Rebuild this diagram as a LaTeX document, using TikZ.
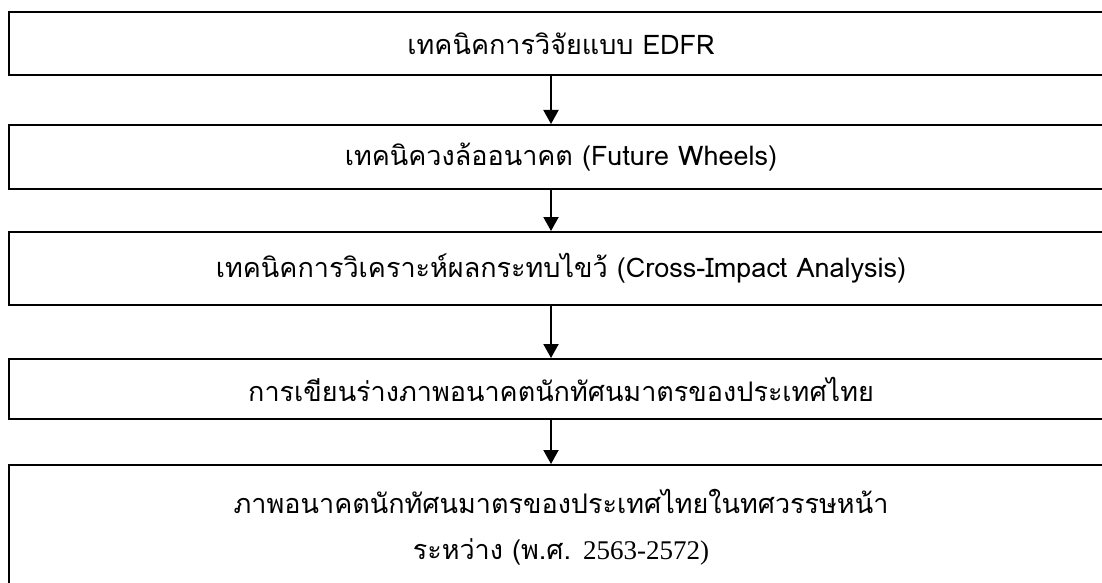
\documentclass[tikz,border=0pt]{standalone}
\usepackage{fontspec}
\newfontfamily\thaifont[Script=Thai]{Loma}
\newfontfamily\numfont{Liberation Serif}
\usetikzlibrary{arrows.meta}
\begin{document}
\begin{tikzpicture}[x=1pt,y=-1pt,
  box/.style={draw=black, line width=2pt, rectangle, minimum width=1105pt,
    inner sep=0pt, font=\thaifont\fontsize{27}{46}\selectfont, align=center},
  arr/.style={line width=2pt, -{Triangle[width=15pt,length=14pt]}}]
\useasboundingbox (0,0) rectangle (1102,583);
\clip (0,0) rectangle (1102,583);
\node[box, minimum height=62.5pt] (b1) at (561,43.75) {เทคนิคการวิจัยแบบ EDFR};
\node[box, minimum height=64pt] (b2) at (561,157) {เทคนิควงล้ออนาคต (Future Wheels)};
\node[box, minimum height=73pt] (b3) at (561,268.5) {เทคนิคการวิเคราะห์ผลกระทบไขว้ (Cross-Impact Analysis)};
\node[box, minimum height=60pt] (b4) at (561,389) {การเขียนร่างภาพอนาคตนักทัศนมาตรของประเทศไทย};
\node[box, minimum height=124pt] (b5) at (561,527) {ภาพอนาคตนักทัศนมาตรของประเทศไทยในทศวรรษหน้า\\ระหว่าง (พ.ศ. {\numfont 2563-2572)}};
\coordinate (ax) at (551,0);
\draw[arr] (b1.south -| ax) -- (b2.north -| ax);
\draw[arr] (b2.south -| ax) -- (b3.north -| ax);
\draw[arr] (b3.south -| ax) -- (b4.north -| ax);
\draw[arr] (b4.south -| ax) -- (b5.north -| ax);
\end{tikzpicture}
\end{document}
